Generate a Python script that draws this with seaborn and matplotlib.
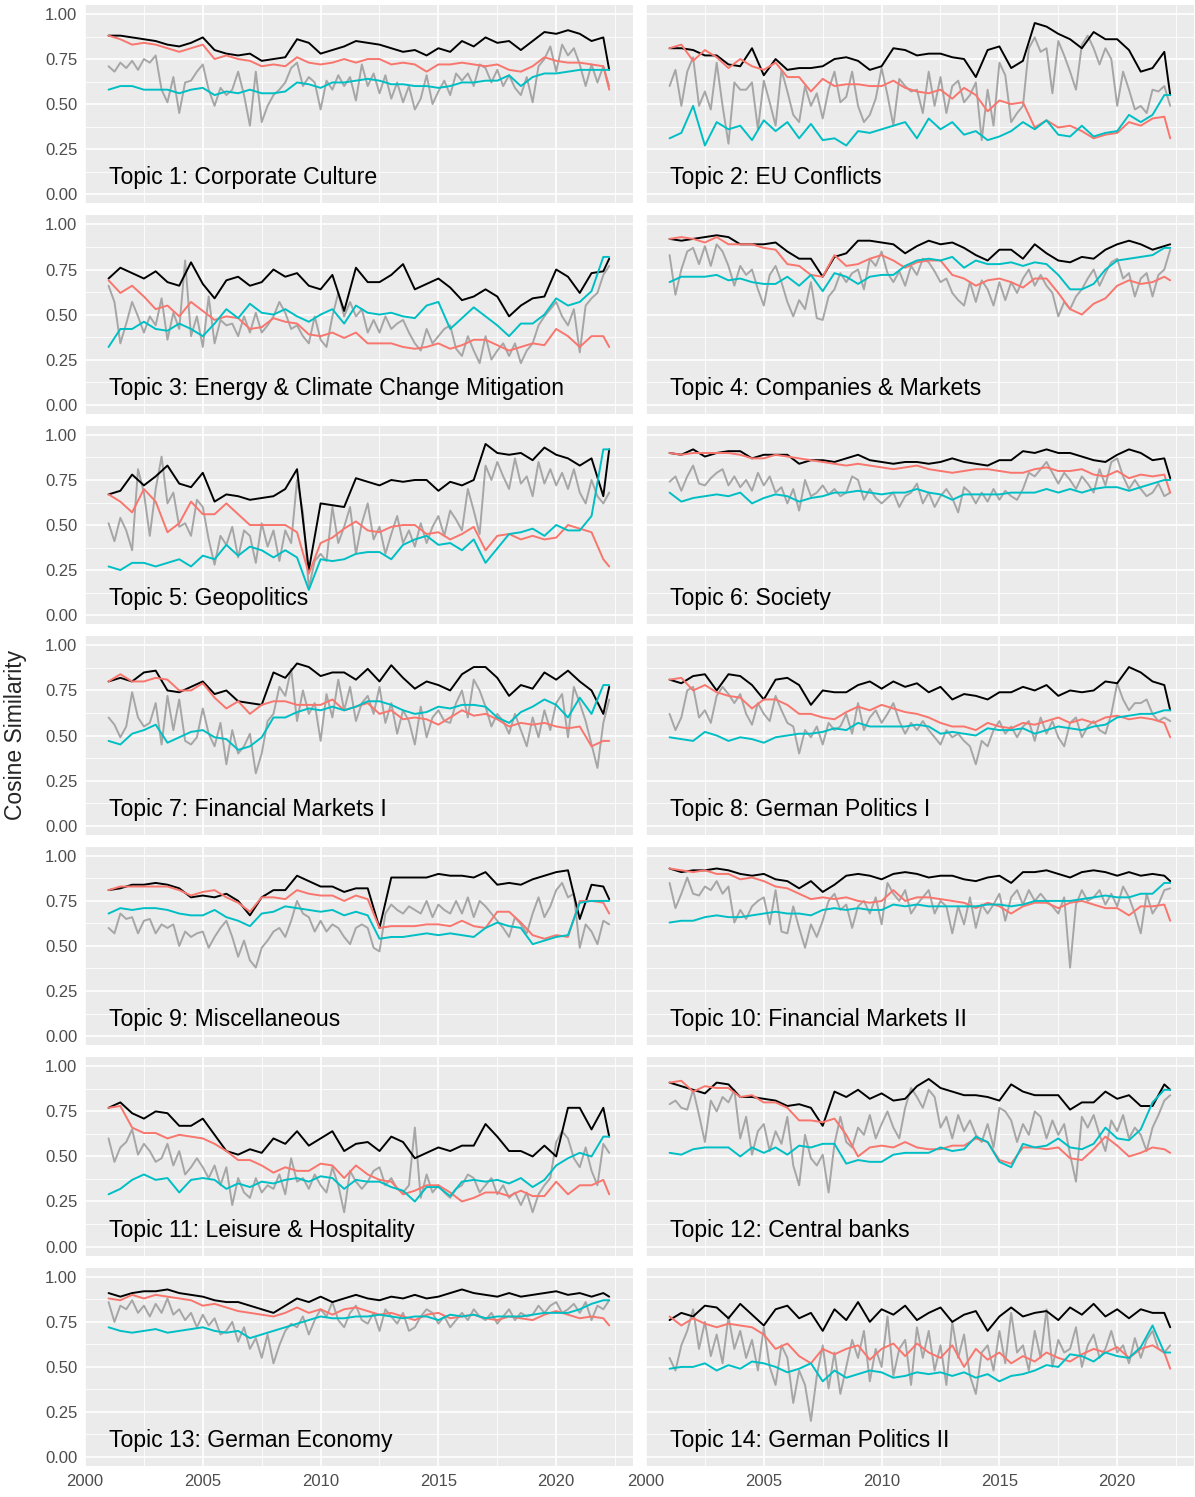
import numpy as np
import pandas as pd
import matplotlib
matplotlib.use("Agg")
import matplotlib.pyplot as plt
import seaborn as sns
from matplotlib.ticker import MultipleLocator, FormatStrFormatter

# values in percent; black/red/cyan are half-yearly (2001.0 ... 2022.0, 2022.25),
# gray is quarterly (2001.0 ... 2022.25)

t1_black = [88,88, 87,86, 85,83, 82,84, 87,80, 78,77, 78,74, 75,76, 86,84, 78,80, 82,85, 84,83, 81,79, 80,77, 81,79, 85,82, 87,84, 85,80, 85,90, 89,91, 89,85, 87,69]
t1_red = [88,86, 83,84, 83,81, 79,81, 83,75, 77,75, 74,71, 72,71, 76,73, 72,73, 75,73, 75,75, 72,73, 72,68, 72,72, 73,72, 71,72, 69,68, 71,76, 74,73, 73,72, 71,58]
t1_cyan = [58,60, 60,58, 58,58, 56,58, 59,55, 57,56, 58,56, 56,57, 62,61, 59,62, 62,63, 64,63, 61,61, 60,60, 59,60, 62,62, 63,63, 66,60, 65,67, 67,68, 69,69, 69,69]
t1_gray = [71,68,73,70, 74,69,75,73, 77,58,51,65, 45,62,63,68, 72,58,49,59, 55,58,68,55, 38,68,40,49, 55,58,62,70, 73,60,65,62, 47,63,58,66, 60,65,52,72, 60,67,56,66, 53,62,51,60, 47,53,66,50, 57,63,55,67, 63,67,60,72, 70,62,69,60, 66,59,55,65, 51,71,75,82, 68,83,77,81, 72,60,72,62, 71,60]

t2_black = [81,81, 80,77, 77,72, 71,81, 66,75, 69,70, 70,71, 75,76, 74,69, 71,81, 80,77, 78,78, 76,75, 65,80, 82,70, 74,95, 93,89, 86,81, 90,86, 86,80, 68,70, 79,55]
t2_red = [81,83, 74,80, 76,70, 75,71, 69,73, 65,65, 57,64, 60,61, 61,60, 60,63, 59,57, 56,58, 53,59, 55,46, 52,50, 51,37, 41,37, 38,35, 31,33, 34,40, 38,42, 43,31]
t2_cyan = [31,34, 49,27, 40,36, 38,30, 41,35, 40,31, 39,30, 31,27, 35,34, 36,38, 40,31, 42,36, 40,33, 35,30, 32,35, 40,36, 41,33, 32,38, 32,34, 35,44, 40,44, 55,55]
t2_gray = [60,69,49,68, 76,49,57,47, 73,49,28,62, 58,58,62,36, 63,51,38,69, 57,44,40,60, 49,56,42,58, 68,51,54,68, 49,40,44,53, 70,55,38,64, 60,57,58,45, 68,49,65,45, 60,63,51,55, 62,30,58,38, 73,66,40,45, 49,81,87,79, 81,56,85,77, 68,58,83,88, 81,72,81,75, 49,68,58,47, 49,45,58,57, 60,49]

t3_black = [70,76, 73,70, 74,68, 66,79, 67,59, 69,71, 66,68, 75,71, 73,66, 64,72, 52,76, 68,68, 72,78, 64,67, 70,65, 58,60, 64,60, 49,55, 59,60, 75,71, 62,73, 74,81]
t3_red = [69,62, 66,60, 53,55, 49,57, 52,47, 49,48, 42,43, 48,46, 45,39, 38,40, 37,40, 34,34, 34,32, 31,32, 34,31, 33,36, 36,33, 30,32, 34,33, 42,38, 32,38, 38,32]
t3_cyan = [32,42, 42,46, 42,41, 45,42, 38,45, 53,48, 56,51, 50,53, 49,46, 50,53, 45,55, 51,50, 51,49, 48,55, 57,42, 48,54, 49,44, 38,45, 45,50, 59,55, 57,63, 82,82]
t3_gray = [66,57,34,45, 57,49,40,49, 44,59,36,51, 42,80,38,49, 32,60,34,47, 44,45,38,49, 40,51,40,44, 49,57,51,42, 44,38,34,49, 36,32,49,62, 49,57,49,53, 40,47,40,49, 42,45,47,40, 34,30,42,34, 38,42,44,31, 27,38,30,23, 38,25,30,34, 27,34,23,30, 34,44,49,53, 57,49,44,53, 29,55,59,62, 72,77]

t4_black = [92,91, 92,93, 94,93, 89,89, 89,90, 85,81, 81,71, 82,84, 91,91, 90,89, 84,88, 91,89, 90,87, 83,80, 86,86, 81,89, 84,80, 79,82, 81,86, 89,91, 89,86, 88,89]
t4_red = [92,93, 92,90, 93,89, 89,89, 87,86, 78,77, 72,71, 83,77, 78,81, 83,80, 76,79, 80,80, 72,70, 66,69, 70,68, 65,70, 70,62, 53,50, 56,59, 66,69, 67,68, 71,69]
t4_cyan = [68,71, 71,71, 72,69, 70,68, 67,67, 71,66, 72,63, 73,71, 67,71, 72,72, 77,80, 81,80, 82,76, 80,78, 78,79, 77,79, 78,72, 64,64, 67,75, 80,81, 82,83, 87,87]
t4_gray = [83,61,75,85, 87,78,88,77, 89,85,77,66, 77,72,75,64, 55,72,77,68, 57,49,58,53, 68,48,47,60, 64,73,68,73, 75,64,81,77, 85,73,68,74, 66,77,72,81, 79,74,68,70, 62,58,55,68, 57,69,64,55, 68,58,68,62, 70,75,66,72, 66,62,49,57, 53,60,64,70, 75,66,73,79, 81,70,73,60, 70,73,60,72, 75,86]

t5_black = [67,69, 78,72, 77,83, 73,71, 79,63, 67,66, 64,65, 66,70, 81,25, 62,61, 60,76, 74,72, 75,74, 75,75, 69,74, 72,75, 95,90, 89,90, 86,93, 89,87, 83,87, 66,92]
t5_red = [67,63, 57,70, 63,46, 51,63, 56,56, 62,56, 50,50, 50,50, 46,23, 40,43, 48,52, 47,46, 49,50, 50,45, 46,42, 45,49, 36,44, 45,42, 44,42, 43,50, 48,46, 31,27]
t5_cyan = [27,25, 29,29, 27,29, 31,27, 33,31, 39,33, 38,36, 32,36, 32,14, 31,30, 31,34, 35,35, 31,39, 42,44, 39,40, 36,42, 29,37, 45,46, 48,44, 50,47, 47,55, 92,92]
t5_gray = [51,41,54,47, 36,81,68,44, 70,88,62,68, 49,51,44,64, 60,42,28,44, 39,49,32,47, 44,29,51,38, 47,30,47,40, 75,57,15,30, 34,30,60,40, 49,60,34,51, 62,42,49,34, 45,55,40,47, 38,51,40,49, 55,44,58,53, 47,70,58,45, 83,75,85,77, 70,87,73,77, 66,85,73,81, 72,79,70,81, 68,62,75,66, 62,68]

t6_black = [90,89, 92,88, 90,91, 91,87, 89,89, 89,84, 86,86, 85,87, 89,86, 85,84, 85,85, 84,85, 87,85, 84,83, 86,86, 91,90, 92,90, 90,88, 86,85, 89,92, 90,86, 87,76]
t6_red = [90,89, 90,90, 90,90, 89,87, 87,89, 88,87, 86,85, 84,83, 84,83, 82,81, 82,83, 81,80, 79,80, 81,81, 80,79, 79,81, 82,80, 80,81, 78,77, 80,76, 78,77, 78,68]
t6_cyan = [68,63, 65,66, 67,66, 68,62, 65,67, 66,63, 65,66, 68,68, 69,68, 67,68, 68,70, 68,67, 64,67, 67,67, 67,68, 68,68, 70,68, 70,68, 70,71, 71,69, 71,73, 75,75]
t6_gray = [74,77,69,77, 83,73,72,76, 79,81,72,77, 71,75,69,79, 72,77,68,71, 62,70,58,75, 66,68,72,67, 70,66,68,77, 75,64,70,65, 62,65,68,60, 66,68,73,62, 68,60,66,70, 65,57,71,68, 62,68,63,70, 64,69,66,64, 70,79,77,81, 85,79,73,79, 75,70,77,73, 68,81,72,85, 87,77,70,75, 70,66,68,73, 66,68]

t7_black = [80,82, 80,85, 86,75, 74,77, 80,73, 75,69, 68,67, 85,82, 90,88, 83,85, 85,81, 87,80, 89,82, 76,80, 78,75, 84,88, 88,82, 72,78, 76,85, 81,86, 80,75, 62,77]
t7_red = [80,84, 80,80, 82,81, 75,75, 79,71, 65,69, 62,67, 69,69, 67,67, 67,70, 64,66, 68,62, 64,59, 60,59, 56,60, 64,61, 62,59, 55,57, 56,57, 55,54, 55,44, 47,47]
t7_cyan = [47,45, 51,53, 56,46, 49,52, 53,49, 48,42, 44,49, 60,60, 63,65, 64,66, 64,66, 69,69, 67,64, 62,63, 66,65, 67,67, 66,60, 57,63, 66,70, 67,60, 71,62, 78,78]
t7_gray = [60,56,49,55, 74,60,55,57, 68,45,72,53, 70,47,45,49, 65,51,44,57, 34,53,40,44, 51,29,40,58, 62,77,72,87, 58,75,62,68, 47,73,60,81, 64,77,58,68, 72,62,77,57, 68,51,64,58, 45,66,49,60, 64,58,57,68, 75,60,81,75, 66,55,62,58, 51,62,53,44, 60,49,64,53, 68,73,49,77, 68,58,45,32, 57,70]

t8_black = [81,79, 83,84, 75,84, 83,78, 70,81, 82,78, 67,75, 74,74, 78,80, 76,80, 77,79, 74,77, 70,73, 72,70, 74,74, 77,75, 78,72, 75,74, 75,80, 79,88, 85,80, 78,64]
t8_red = [81,82, 75,78, 74,72, 71,65, 70,70, 67,62, 62,60, 59,63, 66,64, 67,65, 63,62, 60,57, 55,55, 53,57, 55,54, 57,56, 58,60, 57,59, 57,60, 61,59, 60,59, 57,49]
t8_cyan = [49,48, 47,52, 50,47, 49,48, 46,49, 50,51, 51,52, 54,53, 57,55, 55,55, 55,56, 55,51, 52,51, 50,54, 53,53, 54,51, 53,55, 54,53, 55,56, 60,61, 62,62, 64,64]
t8_gray = [62,53,60,75, 77,60,64,57, 72,77,73,68, 73,62,56,68, 62,58,72,64, 57,55,40,53, 49,55,45,57, 53,55,62,51, 68,53,60,64, 57,62,68,58, 51,57,53,58, 53,49,45,53, 49,51,47,44, 34,47,44,53, 58,51,55,49, 55,58,47,60, 51,58,49,44, 57,60,49,55, 58,53,51,62, 79,70,64,68, 68,70,62,58, 60,58]

t9_black = [81,82, 84,84, 85,84, 82,77, 78,77, 79,75, 67,77, 81,81, 89,86, 83,83, 80,82, 82,60, 88,88, 88,88, 90,89, 89,88, 91,84, 85,84, 87,89, 91,92, 65,84, 83,76]
t9_red = [81,83, 83,83, 83,83, 81,78, 80,81, 77,74, 69,77, 77,76, 81,79, 78,78, 75,78, 76,60, 61,61, 61,62, 62,61, 64,61, 60,69, 69,63, 56,54, 56,55, 75,75, 74,68]
t9_cyan = [68,71, 70,71, 71,70, 68,67, 67,70, 66,64, 61,68, 69,72, 71,70, 69,70, 67,69, 67,54, 55,55, 56,57, 56,57, 56,55, 60,63, 61,60, 51,53, 55,56, 74,75, 75,75]
t9_gray = [60,57,68,65, 66,57,64,65, 57,62,60,62, 50,58,55,57, 58,49,55,60, 64,55,44,53, 42,38,49,53, 58,60,55,64, 75,68,66,58, 64,58,62,60, 55,51,60,62, 60,49,47,68, 73,70,68,72, 70,68,75,66, 73,70,68,75, 68,77,66,75, 72,68,64,60, 55,66,62,57, 68,77,66,72, 81,85,77,79, 49,62,58,51, 64,62]

t10_black = [93,91, 92,92, 93,92, 90,89, 90,87, 86,82, 86,80, 84,89, 90,89, 87,90, 91,90, 88,89, 89,87, 86,88, 89,85, 91,91, 92,90, 88,91, 92,91, 89,91, 89,90, 89,86]
t10_red = [93,92, 91,92, 90,90, 87,88, 86,83, 82,79, 76,77, 76,77, 75,74, 75,81, 75,77, 77,76, 75,74, 71,74, 72,68, 72,74, 74,71, 74,75, 73,71, 71,67, 72,72, 73,64]
t10_cyan = [63,64, 64,66, 67,66, 66,67, 68,69, 68,68, 67,70, 71,70, 71,70, 70,73, 72,73, 72,72, 72,72, 72,73, 73,72, 73,75, 75,75, 75,76, 77,78, 77,77, 79,79, 85,85]
t10_gray = [85,71,79,88, 79,78,83,81, 86,79,83,63, 70,65,72,75, 77,62,81,58, 57,72,60,49, 62,55,64,75, 79,70,73,60, 72,75,68,77, 62,85,79,75, 81,68,73,77, 81,68,75,72, 57,72,62,77, 60,73,68,73, 79,64,77,81, 73,81,75,79, 75,72,68,77, 38,73,81,75, 77,81,73,79, 72,83,77,68, 57,79,68,73, 81,82]

t11_black = [77,80, 74,71, 75,74, 67,67, 71,62, 53,51, 54,52, 60,57, 64,56, 60,64, 53,57, 58,53, 61,58, 49,52, 55,53, 56,56, 68,61, 53,53, 50,56, 50,77, 77,65, 77,61]
t11_red = [77,78, 66,63, 63,60, 62,61, 60,57, 53,48, 48,45, 41,44, 42,42, 46,45, 38,45, 40,37, 36,29, 31,34, 34,30, 25,27, 30,30, 28,31, 28,28, 36,29, 34,34, 37,29]
t11_cyan = [29,32, 37,40, 37,38, 30,37, 38,37, 32,35, 33,36, 35,37, 38,36, 39,38, 32,37, 36,36, 33,31, 25,33, 33,28, 36,37, 36,37, 35,38, 33,37, 45,49, 52,50, 61,61]
t11_gray = [60,47,55,58, 65,51,57,53, 47,49,57,45, 53,40,44,49, 44,38,45,34, 44,23,38,30, 27,38,30,34, 32,40,29,49, 36,38,32,40, 34,30,44,34, 19,42,36,32, 36,42,44,34, 38,32,30,34, 66,27,40,30, 34,30,27,32, 34,40,38,30, 34,38,29,34, 27,30,23,30, 19,29,34,38, 58,64,60,49, 44,55,42,34, 57,52]

t12_black = [91,89, 87,85, 91,90, 83,83, 82,81, 78,79, 77,67, 86,83, 87,82, 85,81, 82,89, 93,88, 86,84, 84,83, 81,90, 86,84, 84,84, 76,80, 80,86, 82,84, 78,78, 90,87]
t12_red = [91,92, 86,89, 88,88, 83,84, 80,80, 77,70, 70,69, 71,62, 50,55, 56,55, 58,55, 54,54, 56,56, 60,58, 48,46, 55,55, 54,55, 49,48, 54,61, 56,50, 52,55, 54,52]
t12_cyan = [52,51, 54,55, 55,55, 50,55, 52,55, 51,56, 55,57, 57,46, 48,47, 47,51, 52,52, 52,55, 53,54, 61,58, 47,44, 57,55, 56,60, 55,54, 57,66, 60,59, 65,80, 87,87]
t12_gray = [79,81,77,76, 87,73,58,81, 75,83,80,87, 60,72,51,64, 68,53,64,57, 72,45,34,62, 49,45,51,30, 57,72,58,55, 66,62,73,60, 68,75,66,60, 77,88,83,77, 87,83,66,72, 60,73,64,70, 62,58,68,55, 77,75,70,58, 68,62,75,72, 60,70,62,68, 51,36,72,66, 73,62,53,70, 64,73,60,66, 62,53,66,73, 81,84]

t13_black = [91,89, 91,92, 92,93, 91,90, 89,87, 86,86, 84,82, 80,84, 88,86, 89,86, 88,90, 88,87, 89,88, 90,88, 89,91, 93,91, 90,89, 91,89, 90,91, 92,90, 91,89, 91,89]
t13_red = [88,87, 90,88, 90,89, 88,87, 84,85, 83,81, 80,79, 78,80, 83,80, 82,79, 82,83, 81,79, 80,78, 76,79, 80,77, 78,79, 77,76, 78,77, 76,79, 81,79, 77,78, 77,73]
t13_cyan = [72,70, 69,70, 71,69, 70,71, 72,70, 69,70, 66,68, 70,72, 74,76, 78,77, 77,78, 78,79, 78,77, 78,78, 76,79, 78,79, 77,78, 78,78, 79,80, 80,80, 82,85, 87,87]
t13_gray = [86,75,84,82, 87,80,84,78, 85,80,88,79, 82,76,80,72, 79,73,77,68, 70,75,64,72, 60,66,55,68, 52,62,70,74, 72,78,68,76, 82,78,86,76, 72,80,84,76, 74,80,70,82, 78,74,80,70, 72,78,82,80, 74,78,72,76, 80,76,82,78, 76,80,74,78, 82,76,80,78, 79,84,80,84, 86,80,82,85, 80,86,76,84, 82,87]

t14_black = [76,80, 78,84, 83,77, 85,79, 73,82, 84,77, 80,70, 82,76, 86,75, 82,79, 84,76, 80,83, 75,79, 81,70, 78,83, 78,80, 81,76, 83,79, 85,78, 82,77, 82,80, 80,72]
t14_red = [78,73, 77,74, 72,74, 73,72, 68,60, 63,56, 52,60, 57,60, 62,54, 60,63, 56,63, 58,55, 62,50, 60,54, 58,52, 56,53, 58,55, 53,57, 60,58, 61,55, 60,62, 58,49]
t14_cyan = [49,50, 50,52, 48,51, 49,53, 52,50, 47,49, 52,42, 48,44, 46,48, 47,44, 45,47, 46,47, 45,47, 44,46, 42,45, 46,48, 51,50, 57,56, 53,58, 56,55, 61,73, 58,58]
t14_gray = [55,48,62,70, 82,60,75,56, 68,52,78,60, 70,55,65,48, 72,50,40,62, 55,30,48,40, 20,45,62,38, 58,35,50,65, 55,70,42,60, 50,78,45,60, 65,40,72,55, 70,48,62,40, 75,55,68,45, 35,58,62,48, 70,52,80,58, 62,48,70,55, 82,50,65,58, 60,72,50,62, 68,55,60,70, 58,62,52,66, 55,65,70,60, 58,62]

titles = [
    "Topic 1: Corporate Culture", "Topic 2: EU Conflicts",
    "Topic 3: Energy & Climate Change Mitigation", "Topic 4: Companies & Markets",
    "Topic 5: Geopolitics", "Topic 6: Society",
    "Topic 7: Financial Markets I", "Topic 8: German Politics I",
    "Topic 9: Miscellaneous", "Topic 10: Financial Markets II",
    "Topic 11: Leisure & Hospitality", "Topic 12: Central banks",
    "Topic 13: German Economy", "Topic 14: German Politics II",
]

panels = [
    (t1_black, t1_red, t1_cyan, t1_gray), (t2_black, t2_red, t2_cyan, t2_gray),
    (t3_black, t3_red, t3_cyan, t3_gray), (t4_black, t4_red, t4_cyan, t4_gray),
    (t5_black, t5_red, t5_cyan, t5_gray), (t6_black, t6_red, t6_cyan, t6_gray),
    (t7_black, t7_red, t7_cyan, t7_gray), (t8_black, t8_red, t8_cyan, t8_gray),
    (t9_black, t9_red, t9_cyan, t9_gray), (t10_black, t10_red, t10_cyan, t10_gray),
    (t11_black, t11_red, t11_cyan, t11_gray), (t12_black, t12_red, t12_cyan, t12_gray),
    (t13_black, t13_red, t13_cyan, t13_gray), (t14_black, t14_red, t14_cyan, t14_gray),
]

years_half = np.concatenate([np.arange(2001, 2022, 0.5), [2022.0, 2022.25]])
years_quarter = 2001 + 0.25 * np.arange(86)

palette = {"gray": "#A6A6A6", "black": "black", "red": "#F8766D", "cyan": "#00BFC4"}


def panel_frame(black, red, cyan, gray):
    parts = []
    for name, vals, xs in [("gray", gray, years_quarter), ("black", black, years_half),
                           ("red", red, years_half), ("cyan", cyan, years_half)]:
        assert len(vals) == len(xs), (name, len(vals), len(xs))
        parts.append(pd.DataFrame({"year": xs, "sim": np.array(vals) / 100, "series": name}))
    return pd.concat(parts, ignore_index=True)


sns.set_theme(style="darkgrid", rc={"axes.facecolor": "#EBEBEB", "grid.color": "white"})
plt.rcParams["font.family"] = ["Liberation Sans", "DejaVu Sans"]

fig, axes = plt.subplots(7, 2, figsize=(11.95, 14.97), dpi=100, sharex=True, sharey=True)
fig.subplots_adjust(left=85 / 1195, right=1194 / 1195, top=1 - 5 / 1497,
                    bottom=1 - 1466 / 1497, wspace=13 / 548, hspace=12.3 / 198)

for i, ax in enumerate(axes.flat):
    df = panel_frame(*panels[i])
    sns.lineplot(data=df, x="year", y="sim", hue="series",
                 hue_order=["gray", "black", "red", "cyan"], palette=palette,
                 legend=False, ax=ax, linewidth=1.4, estimator=None)
    ax.text(2001.0, 0.09, titles[i], fontsize=16.6, ha="left", va="center", color="black")

    ax.set_xlim(2000.04, 2023.26)
    ax.set_ylim(-0.05, 1.05)
    ax.set_xticks([2000, 2005, 2010, 2015, 2020])
    ax.set_yticks([0, 0.25, 0.5, 0.75, 1.0])
    ax.xaxis.set_minor_locator(MultipleLocator(2.5))
    ax.yaxis.set_minor_locator(MultipleLocator(0.125))
    ax.yaxis.set_major_formatter(FormatStrFormatter("%.2f"))
    ax.grid(which="major", color="white", linewidth=1.2)
    ax.grid(which="minor", color="white", linewidth=0.6)
    ax.set_xlabel("")
    ax.set_ylabel("")
    for s in ax.spines.values():
        s.set_visible(False)

    row, col = divmod(i, 2)
    ax.tick_params(which="minor", length=0)
    ax.tick_params(axis="x", which="major", length=3.5 if row == 6 else 0,
                   color="#333333", labelsize=12, labelcolor="#4D4D4D", pad=2)
    ax.tick_params(axis="y", which="major", length=3.5 if col == 0 else 0,
                   color="#333333", labelsize=12, labelcolor="#4D4D4D", pad=2)

fig.text(16 / 1195, 1 - 735 / 1497, "Cosine Similarity", rotation=90,
         ha="center", va="center", fontsize=16.5)

plt.savefig("out.png", dpi=100)
